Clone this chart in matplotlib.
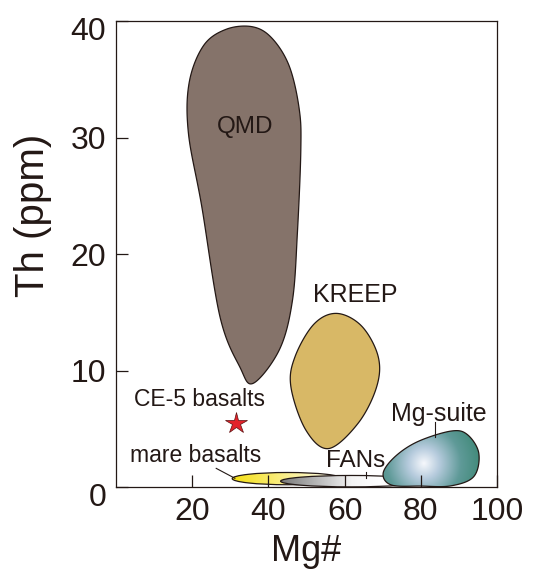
import numpy as np
import matplotlib
matplotlib.use('Agg')
import matplotlib.pyplot as plt
import matplotlib.transforms as mtransforms
from matplotlib.path import Path
from matplotlib.patches import PathPatch, Ellipse
from matplotlib.colors import LinearSegmentedColormap

plt.rcParams['font.family'] = ['Liberation Sans', 'DejaVu Sans']

# field outlines (Mg#, Th ppm)
qmd_mg = [35.9, 41.0, 45.5, 48.1, 48.5, 47.6, 46.3, 42.9, 36.0, 32.5, 27.3, 22.5, 19.0, 19.2, 23.0, 29.0]
qmd_th = [39.5, 38.5, 36.1, 32.4, 28.9, 21.8, 16.0, 11.8, 8.9, 10.3, 14.6, 24.1, 30.4, 34.7, 37.9, 39.3]

kreep_mg = [58.0, 64.5, 68.8, 68.4, 63.6, 55.8, 49.8, 45.9, 47.0, 52.0]
kreep_th = [14.9, 13.8, 11.2, 8.6, 5.5, 3.3, 4.9, 8.6, 11.2, 14.0]

mgsuite_mg = [87.9, 92.2, 95.2, 93.9, 87.9, 80.0, 72.3, 70.1, 73.2, 79.2]
mgsuite_th = [4.8, 4.5, 2.9, 0.9, 0.1, 0.08, 0.17, 1.17, 2.6, 3.9]

# elliptical fields: centre Mg#, centre Th, width, height
mare_field = (45.0, 0.72, 29.0, 1.05)
fans_field = (61.7, 0.5, 37.0, 0.98)

# CE-5 basalts point
ce5_mg = 31.4
ce5_th = 5.5

x_ticks = [20, 40, 60, 80, 100]
y_ticks = [0, 10, 20, 30, 40]

ink = '#231815'


def smooth_closed(xs, ys, n=40):
    # periodic Catmull-Rom spline through the outline points
    p = np.column_stack([xs, ys])
    m = len(p)
    out = []
    t = np.linspace(0, 1, n, endpoint=False)[:, None]
    for i in range(m):
        p0, p1, p2, p3 = p[i - 1], p[i], p[(i + 1) % m], p[(i + 2) % m]
        seg = 0.5 * ((2 * p1) + (-p0 + p2) * t + (2 * p0 - 5 * p1 + 4 * p2 - p3) * t ** 2
                     + (-p0 + 3 * p1 - 3 * p2 + p3) * t ** 3)
        out.append(seg)
    out = np.vstack(out)
    out = np.vstack([out, out[:1]])
    return Path(out, closed=True)


def gradient_fill(ax, patch, extent, values, cmap, z):
    xs = np.linspace(extent[0], extent[1], 400)
    ys = np.linspace(extent[2], extent[3], 200)
    X, Y = np.meshgrid(xs, ys)
    im = ax.imshow(values(X, Y), extent=extent, origin='lower', cmap=cmap,
                   aspect='auto', interpolation='bilinear', zorder=z, vmin=0, vmax=1)
    im.set_clip_path(patch)


fig = plt.figure(figsize=(5.33, 5.71), dpi=100)
ax = fig.add_axes([0.2176, 0.1471, 0.715, 0.8161])

# QMD
ax.add_patch(PathPatch(smooth_closed(qmd_mg, qmd_th), facecolor='#85736a',
                       edgecolor=ink, lw=0.9, zorder=1))

# KREEP
ax.add_patch(PathPatch(smooth_closed(kreep_mg, kreep_th), facecolor='#d8b866',
                       edgecolor=ink, lw=0.9, zorder=1))

# mare basalts
cx, cy, w, h = mare_field
mare = Ellipse((cx, cy), w, h, facecolor='none', edgecolor=ink, lw=0.9, zorder=1.15)
ax.add_patch(mare)
mare_cmap = LinearSegmentedColormap.from_list('mare', ['#f4df12', '#fbef90', '#ffffff'])
gradient_fill(ax, mare, (cx - w / 2, cx + w / 2, cy - h / 2, cy + h / 2),
              lambda X, Y: (X - (cx - w / 2)) / w, mare_cmap, 1.1)

# FANs
cx, cy, w, h = fans_field
fans = Ellipse((cx, cy), w, h, facecolor='none', edgecolor=ink, lw=0.9, zorder=1.25)
ax.add_patch(fans)
fans_cmap = LinearSegmentedColormap.from_list(
    'fans', [(0, '#7a7a7a'), (0.5, '#f4f4f4'), (0.7, '#ffffff'), (1, '#dcdcdc')])
gradient_fill(ax, fans, (cx - w / 2, cx + w / 2, cy - h / 2, cy + h / 2),
              lambda X, Y: (X - (cx - w / 2)) / w, fans_cmap, 1.2)

# Mg-suite
mgs = PathPatch(smooth_closed(mgsuite_mg, mgsuite_th), facecolor='none',
                edgecolor=ink, lw=0.9, zorder=1.35)
ax.add_patch(mgs)
mgs_cmap = LinearSegmentedColormap.from_list(
    'mgs', [(0, '#f6f8fc'), (0.25, '#b6cbdd'), (0.6, '#5f9a98'), (1, '#3a8672')])
gradient_fill(ax, mgs, (68, 97, -0.5, 5.5),
              lambda X, Y: np.clip(np.hypot((X - 80.8) * 3.85, (Y - 2.0) * 11.65) / 62, 0, 1),
              mgs_cmap, 1.3)

# CE-5 basalts star
ax.plot([ce5_mg], [ce5_th], marker='*', markersize=16, color='#e3232b',
        markeredgecolor='#5a1010', markeredgewidth=0.5, zorder=3)

# labels and leader lines
ax.text(33.9, 30.9, 'QMD', fontsize=17.5, ha='center', va='center', color=ink)
ax.text(62.8, 16.5, 'KREEP', fontsize=18, ha='center', va='center', color=ink)
ax.text(22.0, 7.5, 'CE-5 basalts', fontsize=16.5, ha='center', va='center', color=ink)
ax.text(20.8, 2.7, 'mare basalts', fontsize=16.5, ha='center', va='center', color=ink)
ax.text(62.8, 2.2, 'FANs', fontsize=17.5, ha='center', va='center', color=ink)
ax.text(84.8, 6.3, 'Mg-suite', fontsize=18, ha='center', va='center', color=ink)
ax.plot([26.3, 31.2], [1.6, 0.75], color=ink, lw=0.8, zorder=3)
ax.plot([65.7, 65.7], [1.3, 0.8], color=ink, lw=0.8, zorder=3)
ax.plot([83.8, 83.8], [5.6, 4.3], color=ink, lw=0.8, zorder=3)

ax.set_xlim(0, 100)
ax.set_ylim(0, 40)
ax.set_xticks(x_ticks)
ax.set_yticks(y_ticks)
ax.tick_params(direction='in', length=8.5, width=0.9, labelsize=23, pad=7, colors=ink)
ax.tick_params(axis='x', pad=7)
for s in ax.spines.values():
    s.set_color(ink)
    s.set_linewidth(0.9)

# end labels of the y axis sit a little lower than their ticks
shift = mtransforms.ScaledTranslation(0, -7 / 100, fig.dpi_scale_trans)
for lab in ax.get_yticklabels():
    if lab.get_text() in ('0', '40'):
        lab.set_transform(lab.get_transform() + shift)

ax.set_xlabel('Mg#', fontsize=26, color=ink)
ax.xaxis.set_label_coords(0.5, -0.1)
ax.set_ylabel('Th (ppm)', fontsize=29, color=ink)
ax.yaxis.set_label_coords(-0.168, 0.583)

fig.savefig('out.png', dpi=100)
